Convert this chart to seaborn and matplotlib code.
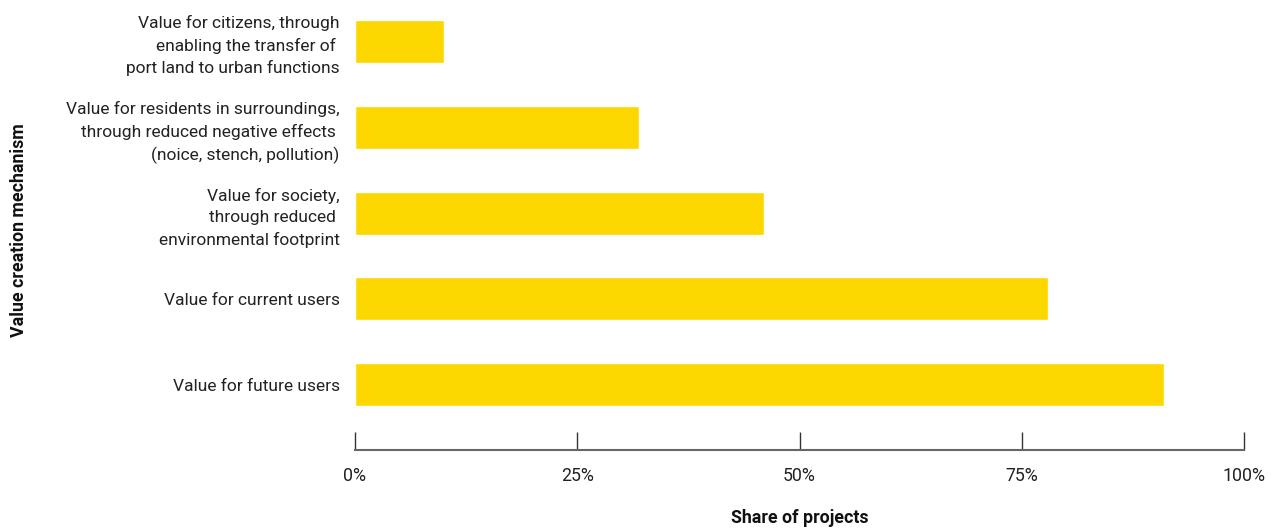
import matplotlib
matplotlib.use("Agg")
import matplotlib.pyplot as plt
import seaborn as sns
import pandas as pd
from matplotlib.ticker import FuncFormatter

categories = [
    "Value for citizens, through\nenabling the transfer of \nport land to urban functions",
    "Value for residents in surroundings,\nthrough reduced negative effects \n(noice, stench, pollution)",
    "Value for society,\nthrough reduced \nenvironmental footprint",
    "Value for current users",
    "Value for future users",
]
shares = [10, 32, 46, 78, 91]
xticks = [0, 25, 50, 75, 100]

sns.set_theme(style="white")
plt.rcParams['font.family'] = ['Roboto', 'DejaVu Sans']

df = pd.DataFrame({"mechanism": categories, "share": shares})

fig = plt.figure(figsize=(12.79, 5.31), dpi=100)
ax = fig.add_axes([355/1279, (531-450)/531, (1244-355)/1279, 450/531])

sns.barplot(data=df, x="share", y="mechanism", orient="h", color="#FCD800",
            saturation=1, width=0.5, ax=ax)

ax.set_xlim(0, 100)
ax.set_ylim(4.756, -0.477)
ax.set_xticks(xticks)
ax.xaxis.set_major_formatter(FuncFormatter(lambda v, p: f"{int(v)}%"))
ax.tick_params(axis="x", direction="in", length=13, width=1, color="#333333",
               pad=12.5, labelsize=12.8, labelcolor="#222222", bottom=True)
ax.tick_params(axis="y", length=0, pad=11, labelsize=12.5, labelcolor="#222222")
for lbl in ax.get_yticklabels():
    lbl.set_multialignment("right")
    lbl.set_linespacing(1.5)

for s in ["top", "right", "left"]:
    ax.spines[s].set_visible(False)
ax.spines["bottom"].set_color("#666666")
ax.spines["bottom"].set_linewidth(1.5)

ax.set_xlabel("Share of projects", fontsize=12.8, fontweight="bold", color="#111111", labelpad=17)
ax.set_ylabel("")
fig.text(19/1279, 1 - 230/531, "Value creation mechanism", rotation=90, ha="center", va="center",
         fontsize=12.8, fontweight="bold", color="#111111")

fig.savefig("out.png", dpi=100)
